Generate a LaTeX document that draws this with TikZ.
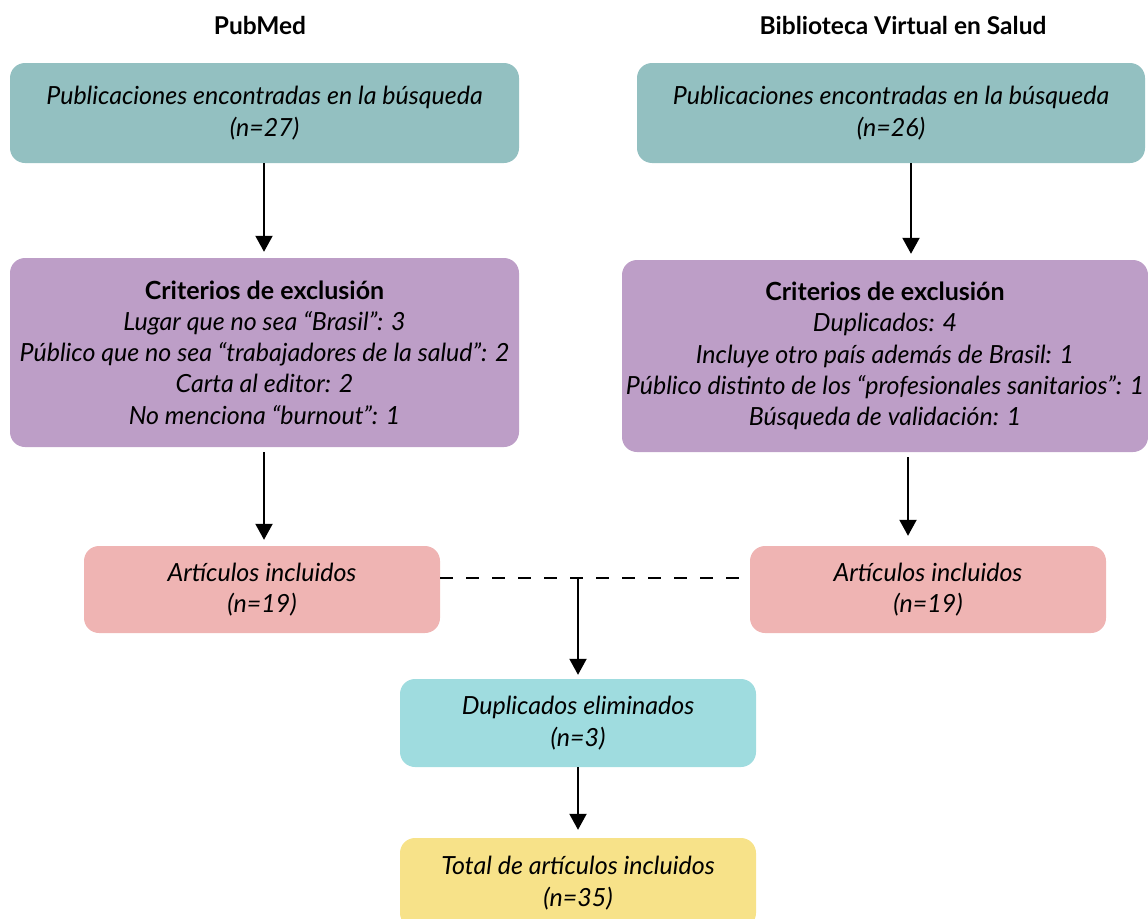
\documentclass[tikz,border=0pt]{standalone}
\usepackage{fontspec}
\setmainfont{Lato}
\usetikzlibrary{arrows.meta}
\definecolor{cteal}{HTML}{93C0C1}
\definecolor{cpurp}{HTML}{BD9EC7}
\definecolor{cpink}{HTML}{EFB4B3}
\definecolor{ccyan}{HTML}{9FDCDF}
\definecolor{cyell}{HTML}{F7E289}
\tikzset{
  box/.style={rounded corners=15pt, inner sep=0pt, align=center, font=\fontsize{25}{31.3}\selectfont\itshape},
  arr/.style={line width=2pt, -{Triangle[width=17pt,length=16pt]}},
  hdr/.style={font=\fontsize{24.5}{28}\selectfont\bfseries, inner sep=0pt}
}
\begin{document}
\begin{tikzpicture}[x=1pt,y=-1pt]
\useasboundingbox (0,0) rectangle (1148,918);
\clip (0,0) rectangle (1148,918);
\node[hdr] (h1) at (260,25) {PubMed};
\node[hdr] (h2) at (903,25) {Biblioteca Virtual en Salud};

\node[box, fill=cteal, minimum width=509pt, minimum height=100pt] (pt) at (264.5,113)
  {Publicaciones encontradas en la búsqueda\\(n=27)};
\node[box, fill=cteal, minimum width=508pt, minimum height=100pt] (bt) at (891,113)
  {Publicaciones encontradas en la búsqueda\\(n=26)};

\node[box, fill=cpurp, minimum width=509pt, minimum height=189pt] (pc) at (264.5,352.5)
  {{\upshape\bfseries Criterios de exclusión}\\Lugar que no sea “Brasil”: 3\\Público que no sea “trabajadores de la salud”: 2\\Carta al editor: 2\\No menciona “burnout”: 1};
\node[box, fill=cpurp, minimum width=526pt, minimum height=192pt] (bc) at (885,356)
  {{\upshape\bfseries Criterios de exclusión}\\Duplicados: 4\\Incluye otro país además de Brasil: 1\\Público distinto de los “profesionales sanitarios”: 1\\Búsqueda de validación: 1};

\node[box, fill=cpink, minimum width=356pt, minimum height=87pt] (pa) at (262,589.5)
  {Artículos incluidos\\(n=19)};
\node[box, fill=cpink, minimum width=356pt, minimum height=87pt] (ba) at (928,589.5)
  {Artículos incluidos\\(n=19)};

\node[box, fill=ccyan, minimum width=356pt, minimum height=88pt] (du) at (578,723)
  {Duplicados eliminados\\(n=3)};
\node[box, fill=cyell, minimum width=356pt, minimum height=90pt] (to) at (578,883)
  {Total de artículos incluidos\\(n=35)};

\coordinate (xl) at (264,0);
\coordinate (xr1) at (911,0);
\coordinate (xr2) at (908,0);
\coordinate (m) at (578,578);

\draw[arr, shorten >=6pt] (pt.south -| xl) -- (pc.north -| xl);
\draw[arr, shorten >=6pt] (bt.south -| xr1) -- (bc.north -| xr1);
\draw[arr, shorten <=5pt, shorten >=6pt] (pc.south -| xl) -- (pa.north -| xl);
\draw[arr, shorten <=5pt, shorten >=10pt] (bc.south -| xr2) -- (ba.north -| xr2);
\draw[line width=2pt, dash pattern=on 13pt off 13pt] (pa.east |- m) -- (ba.west |- m);
\draw[arr, shorten >=4pt] (m) -- (du.north);
\draw[arr, shorten >=8pt] (du.south) -- (to.north);
\end{tikzpicture}
\end{document}
